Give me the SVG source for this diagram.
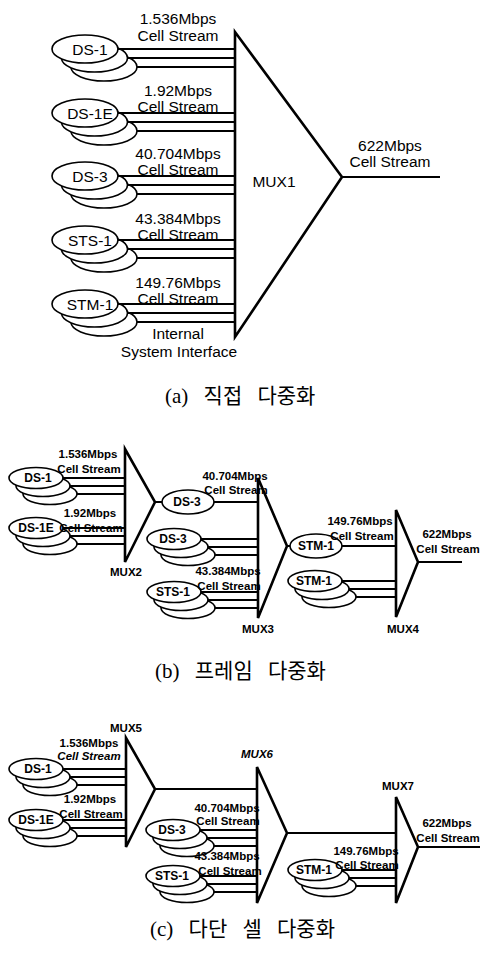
<svg xmlns="http://www.w3.org/2000/svg" xmlns:xlink="http://www.w3.org/1999/xlink" width="481" height="955" viewBox="0 0 481 955">
<style>
.ell{fill:#fff;stroke:#000;stroke-width:1.6}
.ln{stroke:#000;stroke-width:2;fill:none}
.mux{fill:none;stroke:#000;stroke-width:2.6;stroke-linejoin:miter}
text{font-family:"Liberation Sans",Arial,sans-serif;fill:#000;text-anchor:middle}
.ta{font-size:15.5px}
.tb{font-size:11.5px;font-weight:bold}
.nb{font-size:12px;font-weight:bold}
.it{font-style:italic}
.cap{font-family:"Liberation Serif","Noto Sans CJK KR",serif;font-size:21px;text-anchor:start;word-spacing:10px}
</style>
<defs>
<g id="stkA">
<ellipse class="ell" cx="19" cy="18" rx="33" ry="14"/>
<ellipse class="ell" cx="9.5" cy="9" rx="33" ry="14"/>
<ellipse class="ell" cx="0" cy="0" rx="33" ry="14"/>
</g>
<g id="stkB">
<ellipse class="ell" cx="14" cy="16" rx="27" ry="10.5"/>
<ellipse class="ell" cx="7" cy="8" rx="27" ry="10.5"/>
<ellipse class="ell" cx="0" cy="0" rx="27" ry="10.5"/>
</g>
</defs>
<rect width="481" height="955" fill="#fff"/>

<!-- (a) -->
<g id="a-ds1"><use xlink:href="#stkA" x="85" y="49"/><text class="ta" x="90" y="55">DS-1</text></g>
<g id="a-ds1e"><use xlink:href="#stkA" x="85" y="113"/><text class="ta" x="90" y="119">DS-1E</text></g>
<g id="a-ds3"><use xlink:href="#stkA" x="85" y="176"/><text class="ta" x="90" y="182">DS-3</text></g>
<g id="a-sts1"><use xlink:href="#stkA" x="85" y="240"/><text class="ta" x="90" y="246">STS-1</text></g>
<g id="a-stm1"><use xlink:href="#stkA" x="85" y="304"/><text class="ta" x="90" y="310">STM-1</text></g>
<g id="a-mux1"><polygon class="mux" points="235,32 342,177 235,337"/><text class="ta" x="274" y="187">MUX1</text></g>

<!-- (b) -->
<g id="b-ds1"><use xlink:href="#stkB" x="36" y="478"/><text class="nb" x="38" y="482">DS-1</text></g>
<g id="b-ds1e"><use xlink:href="#stkB" x="36" y="528"/><text class="nb" x="36" y="532">DS-1E</text></g>
<g id="b-mux2"><polygon class="mux" points="125,449 155,502 125,562"/><text class="tb" x="126" y="576">MUX2</text></g>
<g id="b-ds3a"><ellipse class="ell" cx="188" cy="502" rx="26" ry="12"/><text class="nb" x="187" y="506">DS-3</text></g>
<g id="b-ds3b"><use xlink:href="#stkB" x="174" y="539"/><text class="nb" x="173" y="543">DS-3</text></g>
<g id="b-sts1"><use xlink:href="#stkB" x="174" y="592"/><text class="nb" x="173" y="596">STS-1</text></g>
<g id="b-mux3"><polygon class="mux" points="258,478 287,546 258,618"/><text class="tb" x="258" y="633">MUX3</text></g>
<g id="b-stm1a"><ellipse class="ell" cx="316" cy="546" rx="26" ry="12"/><text class="nb" x="316" y="550">STM-1</text></g>
<g id="b-stm1b"><use xlink:href="#stkB" x="315" y="581"/><text class="nb" x="314" y="585">STM-1</text></g>
<g id="b-mux4"><polygon class="mux" points="396,510 418,562 396,617"/><text class="tb" x="403" y="633">MUX4</text></g>

<!-- (c) -->
<g id="c-ds1"><use xlink:href="#stkB" x="36" y="769"/><text class="nb" x="38" y="773">DS-1</text></g>
<g id="c-ds1e"><use xlink:href="#stkB" x="36" y="820"/><text class="nb" x="36" y="824">DS-1E</text></g>
<g id="c-mux5"><polygon class="mux" points="126,738 155,789 126,847"/><text class="tb" x="126" y="732">MUX5</text></g>
<g id="c-ds3"><use xlink:href="#stkB" x="173" y="830"/><text class="nb" x="172" y="834">DS-3</text></g>
<g id="c-sts1"><use xlink:href="#stkB" x="173" y="876"/><text class="nb" x="172" y="880">STS-1</text></g>
<g id="c-mux6"><polygon class="mux" points="257,767 287,833 257,903"/><text class="tb it" x="257" y="758">MUX6</text></g>
<g id="c-stm1"><use xlink:href="#stkB" x="315" y="870"/><text class="nb" x="314" y="874">STM-1</text></g>
<g id="c-mux7"><polygon class="mux" points="396,797 418,847 396,903"/><text class="tb" x="398" y="790">MUX7</text></g>

<g id="connectors">
<!-- (a) -->
<path class="ln" d="M118 49H235M127.5 58H235M137 67H235"/>
<path class="ln" d="M118 113H235M127.5 122H235M137 131H235"/>
<path class="ln" d="M118 176H235M127.5 185H235M137 194H235"/>
<path class="ln" d="M118 240H235M127.5 249H235M137 258H235"/>
<path class="ln" d="M118 304H235M127.5 313H235M137 322H235"/>
<path class="ln" d="M342 177H440"/>
<!-- (b) -->
<path class="ln" d="M63 478H125M70 486H125M77 494H125"/>
<path class="ln" d="M63 528H125M70 536H125M77 544H125"/>
<path class="ln" d="M155 502H162M214 502H258"/>
<path class="ln" d="M201 539H258M208 547H258M215 555H258"/>
<path class="ln" d="M201 592H258M208 600H258M215 608H258"/>
<path class="ln" d="M287 546H290M342 546H396"/>
<path class="ln" d="M342 581H396M349 589H396M356 597H396"/>
<path class="ln" d="M418 562H462"/>
<!-- (c) -->
<path class="ln" d="M63 769H126M70 777H126M77 785H126"/>
<path class="ln" d="M63 820H126M70 828H126M77 836H126"/>
<path class="ln" d="M155 789H257"/>
<path class="ln" d="M200 830H257M207 838H257M214 846H257"/>
<path class="ln" d="M200 876H257M207 884H257M214 892H257"/>
<path class="ln" d="M287 833H396"/>
<path class="ln" d="M342 870H396M349 878H396M356 886H396"/>
<path class="ln" d="M418 847H480"/>
</g>

<g id="labels">
<text class="ta" x="178" y="24">1.536Mbps</text><text class="ta" x="178" y="41">Cell Stream</text>
<text class="ta" x="178" y="96">1.92Mbps</text><text class="ta" x="178" y="112">Cell Stream</text>
<text class="ta" x="178" y="159">40.704Mbps</text><text class="ta" x="178" y="175">Cell Stream</text>
<text class="ta" x="178" y="224">43.384Mbps</text><text class="ta" x="178" y="240">Cell Stream</text>
<text class="ta" x="178" y="288">149.76Mbps</text><text class="ta" x="178" y="304">Cell Stream</text>
<text class="ta" x="178" y="339">Internal</text><text class="ta" x="179" y="357">System Interface</text>
<text class="ta" x="390" y="151">622Mbps</text><text class="ta" x="390" y="167">Cell Stream</text>

<text class="tb" x="88" y="458">1.536Mbps</text><text class="tb" x="89" y="473">Cell Stream</text>
<text class="tb" x="90" y="517">1.92Mbps</text><text class="tb" x="91" y="532">Cell Stream</text>
<text class="tb" x="235" y="480">40.704Mbps</text><text class="tb" x="236" y="494">Cell Stream</text>
<text class="tb" x="228" y="575">43.384Mbps</text><text class="tb" x="229" y="590">Cell Stream</text>
<text class="tb" x="360" y="525">149.76Mbps</text><text class="tb" x="362" y="540">Cell Stream</text>
<text class="tb" x="447" y="538">622Mbps</text><text class="tb" x="448" y="553">Cell Stream</text>

<text class="tb" x="89" y="747">1.536Mbps</text><text class="tb it" x="89" y="760">Cell Stream</text>
<text class="tb" x="90" y="803">1.92Mbps</text><text class="tb" x="91" y="818">Cell Stream</text>
<text class="tb" x="227" y="812">40.704Mbps</text><text class="tb" x="228" y="825">Cell Stream</text>
<text class="tb" x="227" y="860">43.384Mbps</text><text class="tb" x="230" y="875">Cell Stream</text>
<text class="tb" x="366" y="855">149.76Mbps</text><text class="tb" x="367" y="869">Cell Stream</text>
<text class="tb" x="447" y="827">622Mbps</text><text class="tb" x="448" y="842">Cell Stream</text>
</g>

<g id="captions">
<text class="cap" x="165" y="403">(a) 직접 다중화</text>
<text class="cap" x="155" y="678">(b) 프레임 다중화</text>
<text class="cap" x="150" y="936">(c) 다단 셀 다중화</text>
</g>
</svg>
